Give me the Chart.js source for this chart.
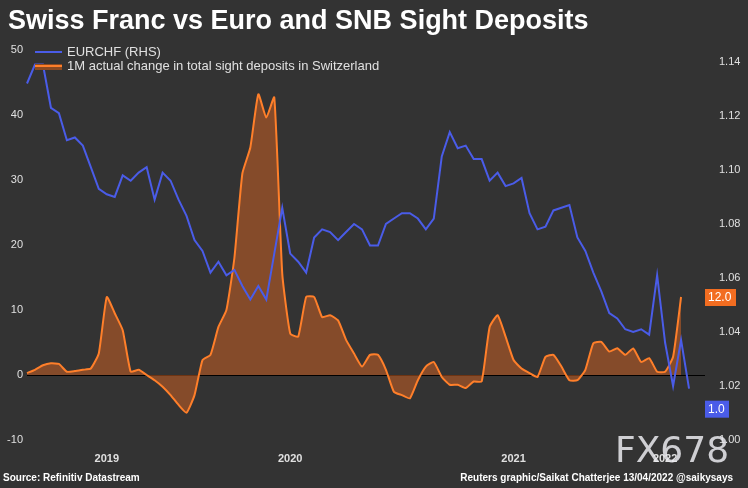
<!DOCTYPE html>
<html><head><meta charset="utf-8">
<script src="https://cdn.jsdelivr.net/npm/chart.js@4"></script>
<style>html,body{margin:0;padding:0;background:#333;}canvas{display:block;}</style>
</head><body>
<div style="width:748px;height:488px;position:relative"><canvas id="c" width="748" height="488"></canvas></div>
<script>
const eurchf = [1.132,1.139,1.139,1.123,1.121,1.111,1.112,1.109,1.101,1.093,1.091,1.090,1.098,1.096,1.099,1.101,1.089,1.099,1.096,1.089,1.083,1.074,1.070,1.062,1.066,1.061,1.063,1.057,1.052,1.057,1.052,1.069,1.086,1.069,1.066,1.062,1.075,1.078,1.077,1.074,1.077,1.080,1.078,1.072,1.072,1.080,1.082,1.084,1.084,1.082,1.078,1.082,1.105,1.114,1.108,1.109,1.104,1.104,1.096,1.099,1.094,1.095,1.097,1.084,1.078,1.079,1.085,1.086,1.087,1.075,1.070,1.062,1.055,1.047,1.045,1.041,1.040,1.041,1.039,1.061,1.036,1.020,1.037,1.019];
const deposits = [0.3,0.8,1.5,1.8,1.7,0.5,0.6,0.8,1.0,3.3,12,9.5,6.9,0.5,0.8,0,-0.8,-1.8,-3.1,-4.6,-5.8,-3.1,2.3,3.1,7.4,10,18,31,35,43.2,39.6,42.7,15.6,6.4,5.9,12,12,8.9,9.2,8.4,5.4,3.3,1.3,3.1,3.1,0.8,-2.6,-3.1,-3.6,-0.8,1.3,2.0,-0.3,-1.5,-1.5,-2.0,-1.0,-1.0,7.4,9.2,5.9,2.3,1.0,0.3,-0.3,2.8,3.1,1.3,-0.8,-0.8,0.8,4.9,5.1,3.6,4.1,3.1,4.1,2.0,2.6,0.5,0.5,2.8,12.0];
const yearTicks = {10:'2019',33:'2020',61:'2021',80:'2022'};
const leftTicks = [-10,0,10,20,30,40,50];
const rightTicks = [1.00,1.02,1.04,1.06,1.08,1.10,1.12,1.14];
const labels = deposits.concat([null,null,null]).map((_,i)=>i);

const deco = {
  id:'deco',
  beforeDraw(ch){const c=ch.ctx;c.save();c.fillStyle='#333';c.fillRect(0,0,ch.width,ch.height);c.restore();},
  afterDraw(ch){
    const c=ch.ctx;c.save();
    c.fillStyle='#fff';c.font='bold 27px Arial, "Liberation Sans"';c.textBaseline='alphabetic';
    c.fillText('Swiss Franc vs Euro and SNB Sight Deposits',8,29);
    c.font='13px Arial, "Liberation Sans"';c.fillStyle='#e0e0e0';
    c.strokeStyle='#4a5ce8';c.lineWidth=2;c.beginPath();c.moveTo(35,52);c.lineTo(62,52);c.stroke();
    c.fillText('EURCHF (RHS)',67,56);
    c.fillStyle='#8b4a22';c.fillRect(35,64,27,6);
    c.strokeStyle='#ff7f2a';c.beginPath();c.moveTo(35,66);c.lineTo(62,66);c.stroke();
    c.fillStyle='#e0e0e0';c.fillText('1M actual change in total sight deposits in Switzerland',67,70);
    c.font='bold 10px Arial, "Liberation Sans"';c.fillStyle='#fff';
    c.fillText('Source: Refinitiv Datastream',3,481);
    c.textAlign='right';c.fillText('Reuters graphic/Saikat Chatterjee 13/04/2022 @saikysays',733,481);
    const y=ch.scales.y, y1=ch.scales.y1;
    const oy=y.getPixelForValue(deposits[deposits.length-1]);
    c.textAlign='left';c.textBaseline='middle';c.font='12px Arial, "Liberation Sans"';
    c.fillStyle='#f26d21';c.fillRect(705,oy-8,31,17);c.fillStyle='#fff';c.fillText('12.0',708,oy+1);
    const by=y1.getPixelForValue(eurchf[eurchf.length-1])+20;
    c.fillStyle='#4a5ce8';c.fillRect(705,by-8,24,17);c.fillStyle='#fff';c.fillText('1.0',708,by+1);
    c.font='36px "DejaVu Sans", Arial';c.fillStyle='rgba(235,235,240,0.85)';c.textBaseline='alphabetic';
    c.fillText('FX678',615,462);
    c.restore();
  }
};

new Chart(document.getElementById('c'),{
  type:'line',
  data:{labels,datasets:[
    {label:'EURCHF (RHS)',data:eurchf,yAxisID:'y1',borderColor:'#4a5ce8',borderWidth:2,pointRadius:0,tension:0,fill:false},
    {label:'deposits',data:deposits,yAxisID:'y',borderColor:'#ff7f2a',borderWidth:2,pointRadius:0,tension:0.15,fill:'origin',backgroundColor:'rgba(200,95,35,0.55)'}
  ]},
  plugins:[deco],
  options:{
    responsive:false,animation:false,
    layout:{padding:{top:50,right:0,left:0,bottom:0}},
    plugins:{legend:{display:false},tooltip:{enabled:false}},
    scales:{
      x:{grid:{display:false},border:{display:false},
        ticks:{autoSkip:false,maxRotation:0,color:'#e0e0e0',font:{size:11,family:'Arial',weight:'bold'},padding:4,
          callback:(v,i)=>yearTicks[i]||''},
        afterFit(s){s.height=48;}},
      y:{position:'left',min:-10,max:50,border:{display:false},
        afterBuildTicks(s){s.ticks=leftTicks.map(v=>({value:v}));},
        grid:{drawTicks:false,color:ctx=>ctx.tick&&ctx.tick.value===0?'#000':'rgba(0,0,0,0)',lineWidth:1},
        ticks:{color:'#e0e0e0',font:{size:11,family:'Arial'},padding:4},
        afterFit(s){s.width=27;}},
      y1:{position:'right',min:1.0,max:1.1444,border:{display:false},grid:{display:false},
        afterBuildTicks(s){s.ticks=rightTicks.map(v=>({value:v}));},
        ticks:{color:'#e0e0e0',font:{size:11,family:'Arial'},padding:6,callback:v=>v.toFixed(2)},
        afterFit(s){s.width=43;}}
    }
  }
});
</script></body></html>
